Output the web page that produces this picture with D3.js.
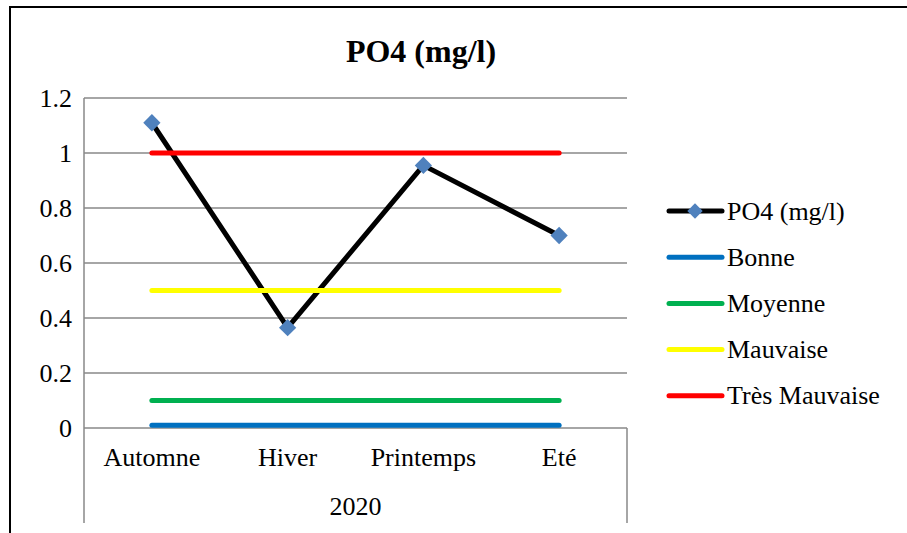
<!DOCTYPE html>
<html>
<head>
<meta charset="utf-8">
<script src="https://cdn.jsdelivr.net/npm/d3@7"></script>
<style>
  html, body { margin: 0; padding: 0; background: #fff; }
  svg { display: block; }
  svg text { font-family: "Liberation Serif", "Tinos", "Times New Roman", "DejaVu Serif", serif !important; fill: #000; }
</style>
</head>
<body>
<svg id="chart" width="907" height="533"></svg>
<script>
// Seasonal phosphate measurements, 2020
const seasons = ["Automne", "Hiver", "Printemps", "Eté"];
const year = "2020";
const po4Values = [1.11, 0.365, 0.955, 0.70];

// Water-quality class thresholds (mg/l)
const classNames = ["Bonne", "Moyenne", "Mauvaise", "Très Mauvaise"];
const classLevels = [0.01, 0.1, 0.5, 1.0];
const classColors = ["#0070C0", "#00B050", "#FFFF00", "#FF0000"];

const yTicks = [0, 0.2, 0.4, 0.6, 0.8, 1, 1.2];
const titleText = "PO4 (mg/l)";
const seriesName = "PO4 (mg/l)";

const serif = "'Liberation Serif', Tinos, 'Times New Roman', 'DejaVu Serif', serif";
const svg = d3.select("#chart");

// outer chart frame
svg.append("rect")
  .attr("x", 10).attr("y", 7)
  .attr("width", 1000).attr("height", 1000)
  .attr("fill", "none").attr("stroke", "#000").attr("stroke-width", 2);

const plot = { left: 84, right: 627, top: 98, bottom: 428 };

const x = d3.scaleBand().domain(seasons).range([plot.left, plot.right]);
const y = d3.scaleLinear().domain([0, 1.2]).range([plot.bottom, plot.top]);
const cx = d => x(d) + x.bandwidth() / 2;

// horizontal gridlines
svg.append("g").selectAll("line").data(yTicks.filter(t => t > 0)).join("line")
  .attr("x1", plot.left).attr("x2", plot.right)
  .attr("y1", d => y(d)).attr("y2", d => y(d))
  .attr("stroke", "#898989").attr("stroke-width", 1.5);

// y axis labels
const yAxis = d3.axisLeft(y).tickValues(yTicks).tickSize(0).tickPadding(12)
  .tickFormat(d => d3.format("~g")(d));
const yg = svg.append("g").attr("transform", `translate(${plot.left},0)`).call(yAxis)
  .attr("font-family", serif);
yg.select(".domain").remove();
yg.selectAll("text").attr("font-size", 26).attr("font-family", serif).attr("fill", "#000");

// axis frame: vertical axis, baseline and group separators
const axisColor = "#898989";
svg.append("line")
  .attr("x1", plot.left).attr("x2", plot.left)
  .attr("y1", plot.top).attr("y2", 523)
  .attr("stroke", axisColor).attr("stroke-width", 1.5);
svg.append("line")
  .attr("x1", plot.left).attr("x2", plot.right)
  .attr("y1", y(0)).attr("y2", y(0))
  .attr("stroke", axisColor).attr("stroke-width", 1.5);
svg.append("line")
  .attr("x1", plot.right).attr("x2", plot.right)
  .attr("y1", y(0)).attr("y2", 523)
  .attr("stroke", axisColor).attr("stroke-width", 1.5);

// category labels
const xAxis = d3.axisBottom(x).tickSize(0).tickPadding(20);
const xg = svg.append("g").attr("transform", `translate(0,${plot.bottom})`).call(xAxis)
  .attr("font-family", serif);
xg.select(".domain").remove();
xg.selectAll("text").attr("font-size", 26).attr("font-family", serif).attr("fill", "#000");

// year group label
svg.append("text")
  .attr("x", (plot.left + plot.right) / 2).attr("y", 515)
  .attr("text-anchor", "middle").attr("font-size", 26).attr("font-family", serif)
  .text(year);

// title
svg.append("text")
  .attr("x", 421).attr("y", 62)
  .attr("text-anchor", "middle").attr("font-size", 32).attr("font-weight", "bold")
  .attr("font-family", serif)
  .text(titleText);

// PO4 series line and markers
const line = d3.line().x((d, i) => cx(seasons[i])).y(d => y(d));
svg.append("path").datum(po4Values)
  .attr("d", line).attr("fill", "none")
  .attr("stroke", "#000").attr("stroke-width", 5).attr("stroke-linejoin", "round");

const diamond = d3.symbol().type(d3.symbolDiamond2).size(190);
svg.append("g").selectAll("path").data(po4Values).join("path")
  .attr("d", diamond)
  .attr("transform", (d, i) => `translate(${cx(seasons[i])},${y(d)})`)
  .attr("fill", "#4F81BD");

// threshold lines
svg.append("g").selectAll("line").data(classLevels).join("line")
  .attr("x1", cx(seasons[0])).attr("x2", cx(seasons[seasons.length - 1]))
  .attr("y1", d => y(d)).attr("y2", d => y(d))
  .attr("stroke", (d, i) => classColors[i])
  .attr("stroke-width", 5).attr("stroke-linecap", "round");

// legend
const legendItems = [{ name: seriesName, color: "#000", marker: true }]
  .concat(classNames.map((n, i) => ({ name: n, color: classColors[i], marker: false })));
const legend = svg.append("g").attr("font-family", serif);
const rows = legend.selectAll("g").data(legendItems).join("g")
  .attr("transform", (d, i) => `translate(0,${211 + i * 46.2})`);
rows.append("line")
  .attr("x1", 669).attr("x2", 722).attr("y1", 0).attr("y2", 0)
  .attr("stroke", d => d.color).attr("stroke-width", 5).attr("stroke-linecap", "round");
rows.filter(d => d.marker).append("path")
  .attr("d", d3.symbol().type(d3.symbolDiamond2).size(150))
  .attr("transform", "translate(695,0)")
  .attr("fill", "#4F81BD");
rows.append("text")
  .attr("x", 727).attr("y", 0).attr("dy", "0.33em")
  .attr("font-size", 26).attr("font-family", serif)
  .text(d => d.name);
</script>
</body>
</html>
